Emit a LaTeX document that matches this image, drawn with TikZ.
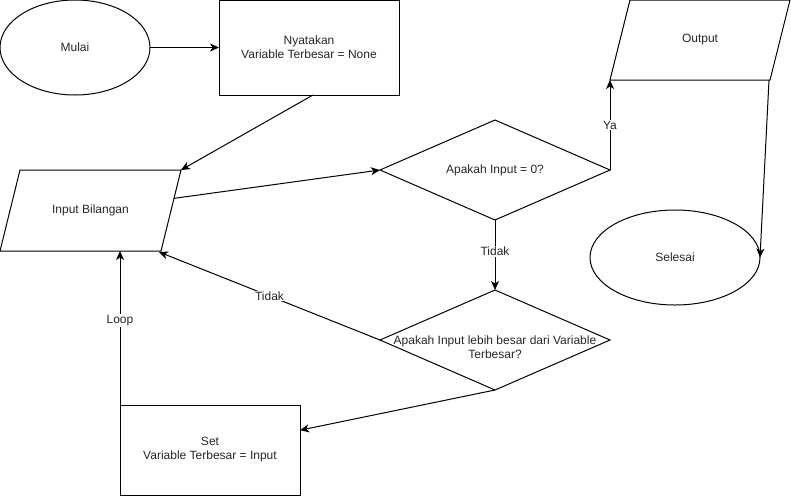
\documentclass[tikz,border=0pt]{standalone}
\usepackage{fontspec}
\setmainfont{Liberation Sans}
\usetikzlibrary{shapes.geometric,arrows.meta,calc}
\begin{document}
\begin{tikzpicture}[x=1pt,y=-1pt,line width=1pt,
  every node/.style={font=\fontsize{12}{14}\selectfont,text=black!85},
  procbox/.style={draw,rectangle,minimum width=180pt,inner sep=0pt,outer sep=0pt,align=center},
  terminal/.style={draw,ellipse,minimum height=95pt,inner sep=0pt,outer sep=0pt},
  iocore/.style={rectangle,minimum width=160pt,inner sep=0pt,outer sep=0pt},
  decision/.style={draw,diamond,minimum width=230pt,minimum height=100pt,inner sep=0pt,outer sep=0pt},
  lab/.style={fill=white,inner sep=1pt},
  arr/.style={-{Stealth[length=9pt,width=8pt,inset=2.5pt]}}]
\useasboundingbox (0,0) rectangle (791,496);

% terminals and process boxes
\node[terminal,minimum width=150pt] (mulai) at (75,47.5) {Mulai};
\node[procbox,minimum height=95pt] (nyat) at (309,47.5) {Nyatakan\\Variable Terbesar = None};
\node[terminal,minimum width=170pt] (sel) at (675,257.5) {Selesai};
\node[procbox,minimum height=90pt] (setb) at (210,450) {Set\\Variable Terbesar = Input};

% input / output parallelograms (slanted by 20pt)
\node[iocore,minimum width=161pt,minimum height=81pt] (inp) at (90.5,210.5) {Input Bilangan};
\coordinate (inp-tl) at ($(inp.north west)+(10,0)$);
\coordinate (inp-tr) at ($(inp.north east)+(10,0)$);
\coordinate (inp-br) at ($(inp.south east)+(-10,0)$);
\coordinate (inp-bl) at ($(inp.south west)+(-10,0)$);
\draw (inp-tl) -- (inp-tr) -- (inp-br) -- (inp-bl) -- cycle;

\node[iocore,minimum height=80pt] (out) at (700,40) {Output};
\coordinate (out-tl) at ($(out.north west)+(10,0)$);
\coordinate (out-tr) at ($(out.north east)+(10,0)$);
\coordinate (out-br) at ($(out.south east)+(-10,0)$);
\coordinate (out-bl) at ($(out.south west)+(-10,0)$);
\draw (out-tl) -- (out-tr) -- (out-br) -- (out-bl) -- cycle;

% decisions
\node[decision] (d1) at (495,170) {};
\node (d1t) at (d1.center) {Apakah Input = 0?};
\node[decision] (d2) at (495,340) {};
\node[align=center] (d2t) at (495,347) {Apakah Input lebih besar dari Variable\\Terbesar?};

% connectors
\draw[arr] (mulai.east) -- (nyat.west);
\draw[arr] ($(nyat.south)+(4,0)$) -- (inp-tr);
\draw[arr] ($(inp-tr)!0.35!(inp-br)$) -- (d1.west);
\draw[arr] (d1.east) -- node[lab] {Ya} (out-bl);
\draw[arr] ($(out-br)+(-1,0)$) -- (sel.east);
\draw[arr] (d1.south) -- node[lab,pos=0.45] {Tidak} (d2.north);
\draw[arr] (d2.west) -- node[lab] {Tidak} ($(inp-br)+(-2,1)$);
\draw[arr] (d2.south) -- ($(setb.north east)!0.28!(setb.south east)$);
\draw[arr] (setb.north west) -- node[lab,pos=0.55] {Loop} (setb.north west |- inp.south);
\end{tikzpicture}
\end{document}
